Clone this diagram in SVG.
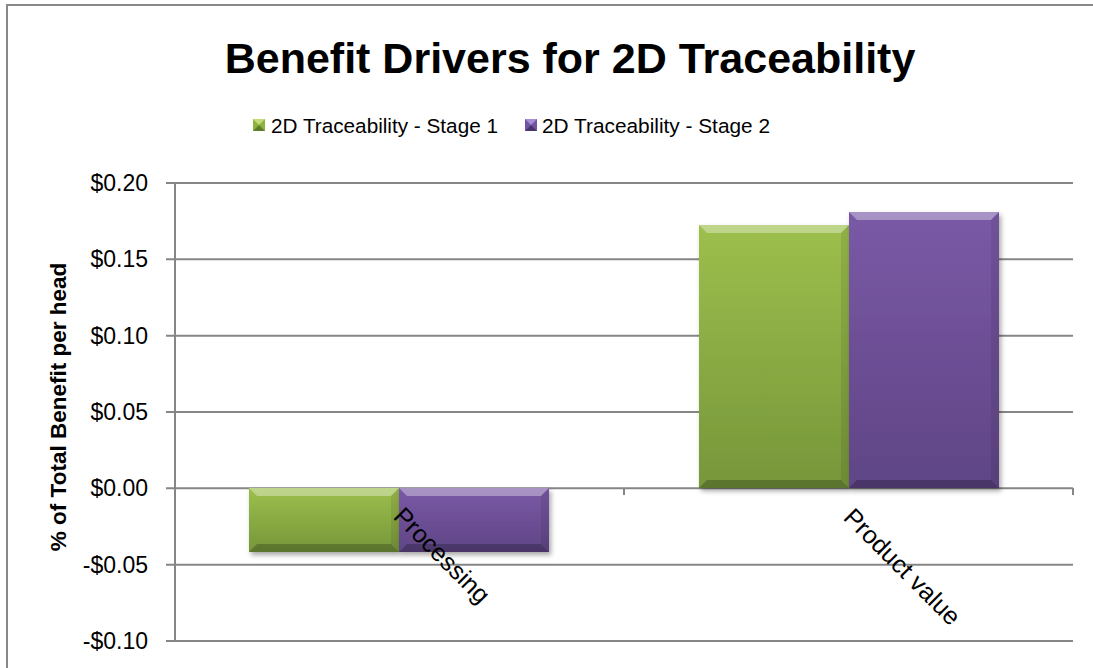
<svg xmlns="http://www.w3.org/2000/svg" width="1093" height="668" viewBox="0 0 1093 668">
<defs>
<style>
.grid{stroke:#868686;stroke-width:2;fill:none}
.tick{font-family:"Liberation Sans",Arial,sans-serif;font-size:23px;fill:#000;text-anchor:end}
.leg{font-family:"Liberation Sans",Arial,sans-serif;font-size:20.5px;fill:#000}
.cat{font-family:"Liberation Sans",Arial,sans-serif;font-size:25px;fill:#000}
.hl{fill:#ffffff;opacity:0.35}
.dk{fill:#000000;opacity:0.22}
.sd{fill:#000000;opacity:0.08}
</style>
<linearGradient id="gG" x1="0" y1="0" x2="0" y2="1"><stop offset="0" stop-color="#9dbf4c"/><stop offset="1" stop-color="#76963a"/></linearGradient>
<linearGradient id="gP" x1="0" y1="0" x2="0" y2="1"><stop offset="0" stop-color="#7a59a6"/><stop offset="1" stop-color="#5f4585"/></linearGradient>
<filter id="sh" x="-10%" y="-10%" width="130%" height="130%"><feDropShadow dx="2" dy="3" stdDeviation="2.5" flood-color="#000" flood-opacity="0.35"/></filter>
</defs>
<rect width="1093" height="668" fill="#ffffff"/>
<path d="M7 668 V5 H1093" fill="none" stroke="#898989" stroke-width="2"/>

<g id="title"><text x="570" y="73" text-anchor="middle" font-family="'Liberation Sans',Arial,sans-serif" font-weight="bold" font-size="43" fill="#000">Benefit Drivers for 2D Traceability</text></g>

<g id="legend">
<g id="legend-stage1">
<rect x="253" y="119" width="12" height="12" fill="#8db33f"/>
<polygon points="253,119 265,119 259,125" fill="#c2dd78"/>
<polygon points="253,131 265,131 259,125" fill="#5f7d28"/>
<text class="leg" x="271" y="133" textLength="227" lengthAdjust="spacingAndGlyphs">2D Traceability - Stage 1</text>
</g>
<g id="legend-stage2">
<rect x="525" y="119" width="12" height="12" fill="#7155a0"/>
<polygon points="525,119 537,119 531,125" fill="#a98cd6"/>
<polygon points="525,131 537,131 531,125" fill="#4a3470"/>
<text class="leg" x="542" y="133" textLength="228" lengthAdjust="spacingAndGlyphs">2D Traceability - Stage 2</text>
</g>
</g>

<g id="axes">
<g class="grid">
<line x1="166" y1="183" x2="1073" y2="183"/>
<line x1="166" y1="259.3" x2="1073" y2="259.3"/>
<line x1="166" y1="335.7" x2="1073" y2="335.7"/>
<line x1="166" y1="412" x2="1073" y2="412"/>
<line x1="166" y1="488.3" x2="1073" y2="488.3"/>
<line x1="166" y1="564.7" x2="1073" y2="564.7"/>
<line x1="166" y1="641" x2="1073" y2="641"/>
<line x1="175" y1="183" x2="175" y2="641"/>
<line x1="624" y1="488" x2="624" y2="495"/>
<line x1="1073" y1="488" x2="1073" y2="495"/>
</g>
<text class="tick" x="148" y="191">$0.20</text>
<text class="tick" x="148" y="267">$0.15</text>
<text class="tick" x="148" y="344">$0.10</text>
<text class="tick" x="148" y="420">$0.05</text>
<text class="tick" x="148" y="496">$0.00</text>
<text class="tick" x="148" y="573">-$0.05</text>
<text class="tick" x="148" y="649">-$0.10</text>
<text transform="translate(66,407) rotate(-90)" text-anchor="middle" font-family="'Liberation Sans',Arial,sans-serif" font-weight="bold" font-size="22.5" fill="#000">% of Total Benefit per head</text>
</g>

<g id="bar-processing-stage1" filter="url(#sh)">
<rect x="249" y="488" width="150" height="64" fill="url(#gG)"/>
<polygon class="hl" points="249,488 399,488 391,496 257,496"/>
<polygon class="dk" points="249,552 399,552 391,544 257,544"/>
<polygon class="sd" points="391,496 399,488 399,552 391,544"/>
</g>
<g id="bar-processing-stage2" filter="url(#sh)">
<rect x="399" y="488" width="150" height="64" fill="url(#gP)"/>
<polygon class="hl" points="399,488 549,488 541,496 407,496"/>
<polygon class="dk" points="399,552 549,552 541,544 407,544"/>
<polygon class="sd" points="541,496 549,488 549,552 541,544"/>
</g>
<g id="bar-product-stage1" filter="url(#sh)">
<rect x="699" y="225" width="150" height="263" fill="url(#gG)"/>
<polygon class="hl" points="699,225 849,225 841,233 707,233"/>
<polygon class="dk" points="699,488 849,488 841,480 707,480"/>
<polygon class="sd" points="841,233 849,225 849,488 841,480"/>
</g>
<g id="bar-product-stage2" filter="url(#sh)">
<rect x="849" y="212" width="150" height="276" fill="url(#gP)"/>
<polygon class="hl" points="849,212 999,212 991,220 857,220"/>
<polygon class="dk" points="849,488 999,488 991,480 857,480"/>
<polygon class="sd" points="991,220 999,212 999,488 991,480"/>
</g>

<g id="category-labels">
<text class="cat" transform="translate(405,505) rotate(45)" y="18">Processing</text>
<text class="cat" transform="translate(855,506) rotate(45)" y="18">Product value</text>
</g>
</svg>
